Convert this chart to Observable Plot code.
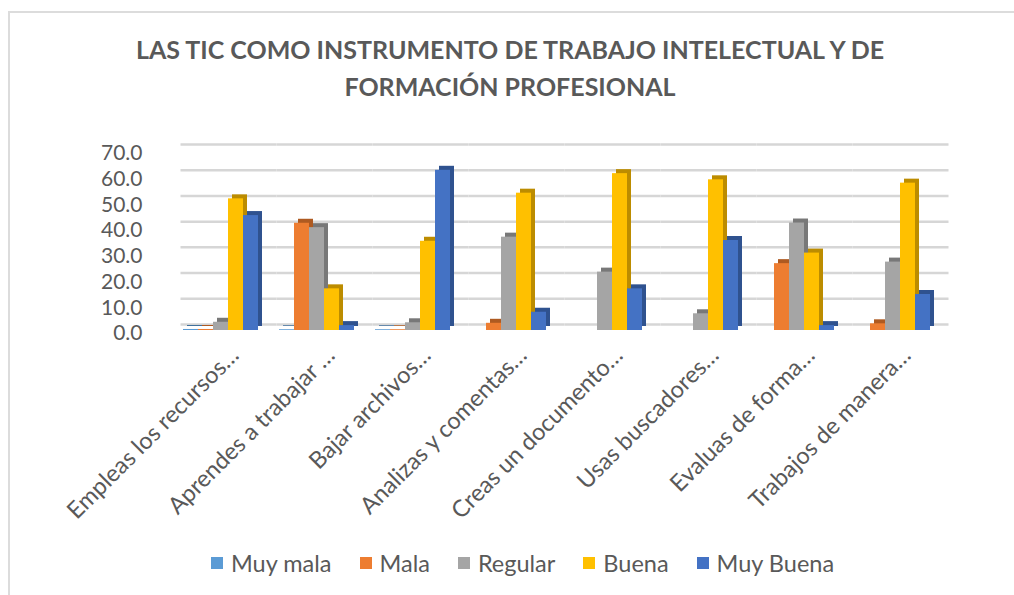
<!DOCTYPE html>
<html><head><meta charset="utf-8">
<script src="https://cdn.jsdelivr.net/npm/d3@7"></script>
<script src="https://cdn.jsdelivr.net/npm/@observablehq/plot@0.6"></script>
<style>
body{margin:0;background:#fff;font-family:Lato,"Open Sans",sans-serif;}
#wrap{position:relative;width:1014px;height:595px;overflow:hidden;background:#fff;}
#border{position:absolute;left:8px;top:11px;right:-10px;bottom:-10px;border-left:2px solid #dcdcdc;border-top:2px solid #dcdcdc;}
#title{position:absolute;left:0;width:1020px;top:31px;text-align:center;font-weight:700;font-size:25px;line-height:37px;color:#595959;}
#chart{position:absolute;left:0;top:0;}
#legend{position:absolute;top:549px;left:211px;display:flex;align-items:center;font-size:23.5px;color:#595959;white-space:nowrap;}
.item{display:flex;align-items:center;margin-right:28px;}
.sw{width:12px;height:12px;margin-right:8px;}
</style></head>
<body>
<div id="wrap">
  <div id="border"></div>
  <div id="title">LAS TIC COMO INSTRUMENTO DE TRABAJO INTELECTUAL Y DE<br>FORMACIÓN PROFESIONAL</div>
  <div id="chart"></div>
  <div id="legend"></div>
</div>
<script>
const categories = ["Empleas los recursos…","Aprendes a trabajar …","Bajar archivos…","Analizas y comentas…","Creas un documento…","Usas buscadores…","Evaluas de forma…","Trabajos de manera…"];
const series = ["Muy mala","Mala","Regular","Buena","Muy Buena"];
const muyMala  = [0.4, 0.3, 0.3, 0, 0, 0, 0, 0];
const mala     = [0.4, 41.7, 0.3, 2.8, 0, 0, 26.0, 2.6];
const regular  = [3.2, 40.0, 3.0, 36.3, 22.7, 6.5, 41.8, 26.6];
const buena    = [51.2, 16.2, 34.7, 53.4, 61.0, 58.6, 30.1, 57.3];
const muyBuena = [44.7, 1.9, 62.3, 7.1, 16.2, 35.0, 1.9, 14.0];
const yTicks = [0, 10, 20, 30, 40, 50, 60, 70];
const colors = ["#5b9bd5","#ed7d31","#a5a5a5","#ffc000","#4472c4"];
const sideColors = ["#41719c","#ae5a21","#787878","#bc8c00","#2f528f"];

const valuesBySeries = [muyMala, mala, regular, buena, muyBuena];
const data = [];
categories.forEach((c, i) => series.forEach((s, j) => data.push({category: c, series: s, value: valuesBySeries[j][i]})));

const plot = Plot.plot({
  width: 1014, height: 540,
  marginTop: 150, marginBottom: 210, marginLeft: 183, marginRight: 84,
  style: {fontFamily: "Lato, 'Open Sans', sans-serif", color: "#595959", background: "transparent"},
  fx: {domain: categories, paddingInner: 0.21875, paddingOuter: 0, label: null, axis: null},
  x: {domain: series, padding: 0, axis: null},
  y: {domain: [0, 70], axis: null},
  color: {domain: series, range: colors},
  marks: [
    Plot.ruleY(yTicks, {stroke: "#d6d6d6", strokeWidth: 2.5, insetLeft: -10.5, insetRight: -10.5, dx: 8, dy: -6}),
    ...series.map((s, j) => Plot.barY(data.filter(d => d.series === s), {fx: "category", x: "series", y: "value", fill: sideColors[j], dx: 4, dy: -4})),
    Plot.barY(data, {fx: "category", x: "series", y: "value", fill: "series"}),
    Plot.axisY({ticks: yTicks, tickFormat: d => d.toFixed(1), tickSize: 0, tickPadding: 41, fontSize: 21, dy: 3, label: null}),
    Plot.axisFx({anchor: "bottom", tickRotate: -45, tickSize: 0, tickPadding: 0, fontSize: 23.5, label: null, dx: 14, dy: 21})
  ]
});
document.getElementById("chart").appendChild(plot);

const legend = document.getElementById("legend");
series.forEach((s, j) => {
  const it = document.createElement("div"); it.className = "item";
  const sw = document.createElement("div"); sw.className = "sw"; sw.style.background = colors[j];
  const tx = document.createElement("span"); tx.textContent = s;
  it.appendChild(sw); it.appendChild(tx); legend.appendChild(it);
});
</script>
</body></html>
